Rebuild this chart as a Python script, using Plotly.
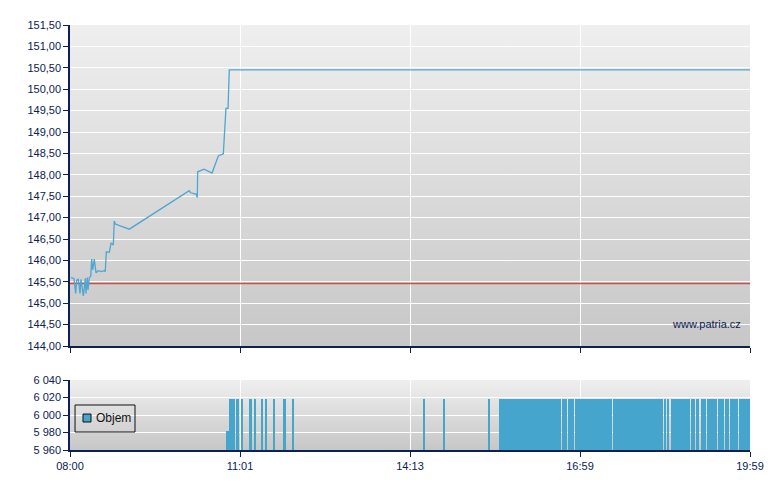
import numpy as np
import plotly.graph_objects as go
import base64

# ---- data (x = session position in minutes from 08:00 on the chart's index axis) ----
price_pos = [1.1, 4.2, 6.0, 7.1, 8.8, 10.6, 11.6, 14.1, 16.2, 16.9, 18.3, 19.0, 20.4, 21.9,
             22.9, 24.0, 25.7, 27.5, 29.9, 33.5, 36.0, 37.3, 38.4, 41.6, 43.4, 45.8, 46.8,
             47.9, 62.7, 126.1, 127.6, 133.2, 134.6, 135.0, 141.7, 150.2, 156.8, 162.1,
             164.9, 167.1, 168.4, 719.0]
price_val = [145.60, 145.58, 145.23, 145.54, 145.56, 145.23, 145.56, 145.17, 145.58, 145.23,
             145.60, 145.31, 145.60, 145.62, 146.03, 145.78, 146.03, 145.71, 145.76, 145.74,
             145.76, 145.74, 146.20, 146.19, 146.41, 146.36, 146.92, 146.85, 146.73, 147.63,
             147.58, 147.55, 147.47, 148.07, 148.13, 148.04, 148.44, 148.49, 149.55, 149.55,
             150.45, 150.45]
ref_price = 145.46

vol_start = [165.0, 166.8, 168.3, 170.2, 176.3, 181.7, 190.3, 195.4, 202.8, 206.2, 215.5,
             226.0, 235.6, 373.4, 394.5, 442.1, 453.6, 520.2, 526.6, 533.7, 574.2, 628.0,
             631.5, 635.2, 656.7, 661.9, 666.9, 673.5, 685.2, 692.9, 698.2, 707.4, 709.8]
vol_end = [166.0, 167.9, 169.4, 174.5, 178.4, 182.9, 192.4, 196.6, 204.0, 208.3, 216.7,
           228.1, 236.8, 374.6, 395.7, 443.3, 519.2, 525.5, 532.6, 573.1, 627.3, 630.5,
           633.7, 655.6, 660.9, 665.4, 672.5, 683.8, 691.8, 697.1, 706.3, 708.8, 719.0]
vol_val = [5982, 5982] + [6018] * 31
vol_name = "Objem"

tick_labels = ["08:00", "11:01", "14:13", "16:59", "19:59"]
price_ticks = [144.0, 144.5, 145.0, 145.5, 146.0, 146.5, 147.0, 147.5, 148.0, 148.5, 149.0,
               149.5, 150.0, 150.5, 151.0, 151.5]
vol_ticks = [5960, 5980, 6000, 6020, 6040]
x_min, x_max = 0, 719

# ---- styling ----
NAVY = "#0b2153"
LINE = "#4ea6d2"
BAR = "#46a5cc"
FAM = "Liberation Sans, Arial, sans-serif"
FONT = dict(family=FAM, size=11, color=NAVY)

svg = ('<svg xmlns="http://www.w3.org/2000/svg" width="10" height="100" preserveAspectRatio="none">'
       '<defs><linearGradient id="g" x1="0" y1="0" x2="0" y2="1">'
       '<stop offset="0" stop-color="#efefef"/><stop offset="1" stop-color="#c7c7c7"/>'
       '</linearGradient></defs><rect width="10" height="100" fill="url(#g)"/></svg>')
grad = "data:image/svg+xml;base64," + base64.b64encode(svg.encode()).decode()

fig = go.Figure()

fig.add_trace(go.Scatter(x=[x_min, x_max], y=[ref_price, ref_price], mode="lines",
                         line=dict(color="#c9504a", width=1.5), showlegend=False,
                         xaxis="x", yaxis="y"))
fig.add_trace(go.Scatter(x=price_pos, y=price_val, mode="lines",
                         line=dict(color=LINE, width=1.3), showlegend=False,
                         xaxis="x", yaxis="y"))

vs = np.array(vol_start)
ve = np.array(vol_end)
fig.add_trace(go.Bar(x=(vs + ve) / 2, y=vol_val, width=ve - vs, name=vol_name,
                     marker=dict(color=BAR, line=dict(width=0)),
                     showlegend=False, xaxis="x2", yaxis="y2"))

tickvals = list(np.linspace(x_min, x_max, len(tick_labels)))

common_x = dict(range=[x_min, x_max], tickvals=tickvals, ticktext=tick_labels,
                showgrid=True, gridcolor="white", gridwidth=1, showline=True,
                linecolor=NAVY, linewidth=1.5, ticks="outside", ticklen=5, tickcolor=NAVY,
                tickfont=FONT, zeroline=False, fixedrange=True)
common_y = dict(showgrid=True, gridcolor="white", gridwidth=1, showline=True, linecolor=NAVY,
                linewidth=1.5, ticks="outside", ticklen=5, tickcolor=NAVY, tickfont=FONT,
                zeroline=False, fixedrange=True)

# legend box drawn in the volume panel (domain coordinates)
shapes = [
    dict(type="rect", xref="x2 domain", yref="y2 domain", x0=0.0074, x1=0.0956, y0=0.257,
         y1=0.643, line=dict(color="#111111", width=1), fillcolor="rgba(0,0,0,0)"),
    dict(type="rect", xref="x2 domain", yref="y2 domain", x0=0.0191, x1=0.0309, y0=0.40,
         y1=0.514, line=dict(color="#111111", width=1), fillcolor=BAR),
]

fig.update_layout(
    width=772, height=482,
    margin=dict(l=62, r=30, t=17, b=40),
    paper_bgcolor="white", plot_bgcolor="rgba(0,0,0,0)",
    separators=", ",
    font=FONT,
    showlegend=False,
    xaxis=dict(common_x, anchor="y", showticklabels=False),
    yaxis=dict(common_y, domain=[0.2447, 1.0], range=[144.0, 151.5], tickvals=price_ticks,
               tickformat=",.2f", anchor="x"),
    xaxis2=dict(common_x, anchor="y2", matches="x"),
    yaxis2=dict(common_y, domain=[0.0, 0.1647], range=[5960, 6040], tickvals=vol_ticks,
                tickformat=",d", anchor="x2"),
    bargap=0,
    shapes=shapes,
    images=[
        dict(source=grad, xref="x domain", yref="y domain", x=0, y=1, sizex=1, sizey=1,
             sizing="stretch", layer="below", xanchor="left", yanchor="top"),
        dict(source=grad, xref="x2 domain", yref="y2 domain", x=0, y=1, sizex=1, sizey=1,
             sizing="stretch", layer="below", xanchor="left", yanchor="top"),
    ],
    annotations=[
        dict(text="www.patria.cz", xref="x domain", yref="y domain", x=0.99, y=0.068,
             xanchor="right", yanchor="middle", showarrow=False,
             font=dict(family=FAM, size=11, color=NAVY)),
        dict(text=vol_name, xref="x2 domain", yref="y2 domain", x=0.0353, y=0.457,
             xanchor="left", yanchor="middle", showarrow=False,
             font=dict(family=FAM, size=12, color="#111111")),
    ],
)

fig.write_html("out.html")
